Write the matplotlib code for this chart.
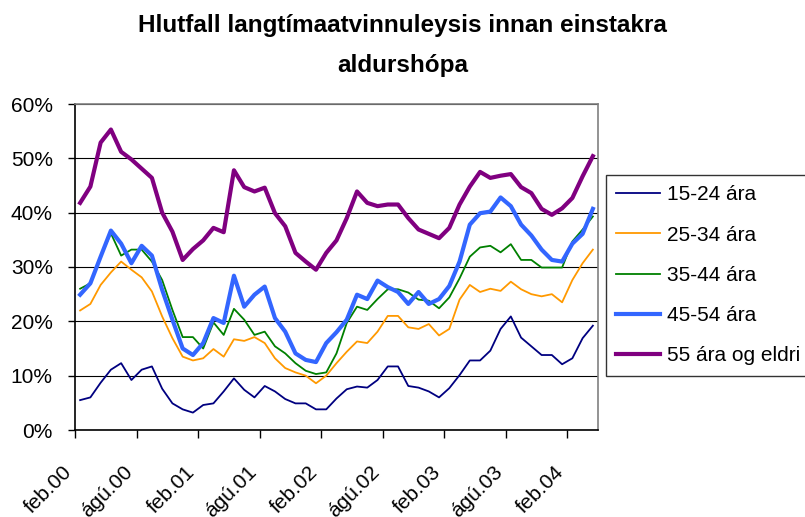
import numpy as np
import matplotlib
matplotlib.use('Agg')
import matplotlib.pyplot as plt
from matplotlib.ticker import PercentFormatter

plt.rcParams['font.family'] = ['Liberation Sans', 'DejaVu Sans']

# Mánaðarleg gögn, feb.00 - apr.04 (hlutfall í %)
aldur_15_24 = [5.5, 6.0, 8.7, 11.1, 12.3, 9.2, 11.1, 11.7, 7.6, 4.9,
               3.8, 3.2, 4.6, 4.9, 7.1, 9.5, 7.4, 6.0, 8.1, 7.1,
               5.7, 4.9, 4.9, 3.8, 3.8, 5.8, 7.5, 8.0, 7.8, 9.2,
               11.7, 11.7, 8.1, 7.8, 7.1, 6.0, 7.7, 10.1, 12.8, 12.8,
               14.6, 18.6, 20.9, 17.0, 15.4, 13.8, 13.8, 12.1, 13.2, 16.9,
               19.2]
aldur_25_34 = [22.0, 23.2, 26.7, 29.0, 31.0, 29.5, 28.1, 25.5, 20.9, 16.9,
               13.5, 12.8, 13.2, 14.9, 13.5, 16.7, 16.4, 17.1, 16.0, 13.2,
               11.4, 10.6, 10.0, 8.6, 10.0, 12.3, 14.4, 16.3, 16.0, 18.1,
               21.0, 21.0, 18.9, 18.6, 19.5, 17.4, 18.6, 24.0, 26.7, 25.4,
               26.0, 25.6, 27.3, 25.9, 25.0, 24.6, 25.0, 23.5, 27.6, 30.7,
               33.2]
aldur_35_44 = [26.0, 27.0, 31.9, 36.2, 32.1, 33.2, 33.2, 31.0, 27.6, 22.1,
               17.1, 17.1, 15.0, 19.8, 17.5, 22.3, 20.3, 17.5, 18.1, 15.4,
               14.1, 12.3, 10.9, 10.3, 10.6, 14.1, 19.7, 22.7, 22.1, 24.1,
               25.9, 25.9, 25.3, 24.0, 23.8, 22.4, 24.4, 27.9, 31.9, 33.6,
               33.9, 32.7, 34.2, 31.3, 31.3, 29.9, 29.9, 29.9, 34.7, 36.9,
               39.3]
aldur_45_54 = [24.9, 27.0, 31.9, 36.7, 34.3, 30.7, 33.9, 32.1, 25.8, 20.3,
               15.0, 13.8, 16.0, 20.6, 19.7, 28.4, 22.7, 24.9, 26.4, 20.6,
               18.1, 14.1, 12.9, 12.5, 16.0, 18.0, 20.3, 24.9, 24.1, 27.5,
               26.3, 25.4, 23.2, 25.4, 23.2, 24.1, 26.5, 31.0, 37.8, 39.9,
               40.2, 42.8, 41.2, 37.8, 35.8, 33.2, 31.3, 31.0, 34.3, 36.1,
               40.7]
aldur_55 = [41.8, 44.8, 52.9, 55.3, 51.2, 49.8, 48.1, 46.4, 40.0, 36.5,
            31.3, 33.3, 34.9, 37.2, 36.4, 47.8, 44.7, 43.9, 44.6, 39.9,
            37.5, 32.6, 31.0, 29.5, 32.6, 34.9, 39.0, 43.9, 41.8, 41.2,
            41.5, 41.5, 39.0, 36.9, 36.1, 35.3, 37.2, 41.5, 44.8, 47.5,
            46.4, 46.8, 47.1, 44.7, 43.6, 40.7, 39.6, 40.8, 42.7, 46.7,
            50.4]

flokkar = ['15-24 ára', '25-34 ára', '35-44 ára', '45-54 ára', '55 ára og eldri']
litir = ['#000080', '#FF9900', '#008000', '#3366FF', '#800080']
breiddir = [1.3, 1.3, 1.3, 3.0, 3.0]
tick_labels = ['feb.00', 'ágú.00', 'feb.01', 'ágú.01', 'feb.02',
               'ágú.02', 'feb.03', 'ágú.03', 'feb.04']

rodir = [aldur_15_24, aldur_25_34, aldur_35_44, aldur_45_54, aldur_55]
n = len(aldur_15_24)
x = np.arange(n)

fig = plt.figure(figsize=(8.05, 5.17), dpi=100)
ax = fig.add_axes([75 / 805, 87 / 517, 523 / 805, 326 / 517])

for gildi, nafn, litur, lw in zip(rodir, flokkar, litir, breiddir):
    ax.plot(x, np.array(gildi) / 100, color=litur, lw=lw, label=nafn,
            solid_joinstyle='round')

ax.set_ylim(0, 0.6)
ax.set_yticks(np.arange(0, 0.61, 0.1))
ax.yaxis.set_major_formatter(PercentFormatter(1.0, decimals=0))
ax.grid(axis='y', color='black', lw=0.8)
ax.set_axisbelow(True)

# strik á mörkum hálfsárs; merkin skrifuð sér, aðeins til vinstri við strikin
strik = np.arange(len(tick_labels)) * 6 - 0.5
ax.set_xticks(strik)
ax.set_xticklabels([])
ax.set_xlim(-0.5, n - 0.5)
for xs, texti in zip(strik, tick_labels):
    ax.annotate(texti, xy=(xs, 0), xycoords=('data', 'axes fraction'),
                xytext=(-9.4, -23.5), textcoords='offset points',
                rotation=45, ha='right', va='top', rotation_mode='anchor',
                fontsize=15, annotation_clip=False)

ax.tick_params(axis='y', length=5, width=1, pad=11, labelsize=15)
ax.tick_params(axis='x', length=5.5, width=1)

ax.spines['left'].set_color('black')
ax.spines['bottom'].set_color('black')
ax.spines['top'].set_color('#808080')
ax.spines['right'].set_color('#808080')
for s in ax.spines.values():
    s.set_linewidth(1.2)

leg = fig.legend(loc='upper left', bbox_to_anchor=(606 / 805, 1 - 175 / 517),
                 bbox_transform=fig.transFigure, borderaxespad=0,
                 fontsize=15, frameon=True, fancybox=False, edgecolor='black',
                 labelspacing=1.02, handlelength=2.1, handletextpad=0.35,
                 borderpad=0.5)
leg.get_frame().set_linewidth(1.0)

fig.text(0.5, 1 - 32 / 517, 'Hlutfall langtímaatvinnuleysis innan einstakra',
         ha='center', va='baseline', fontsize=17.5, fontweight='bold')
fig.text(0.5, 1 - 72 / 517, 'aldurshópa',
         ha='center', va='baseline', fontsize=17.5, fontweight='bold')

fig.savefig('out.png', dpi=100)
